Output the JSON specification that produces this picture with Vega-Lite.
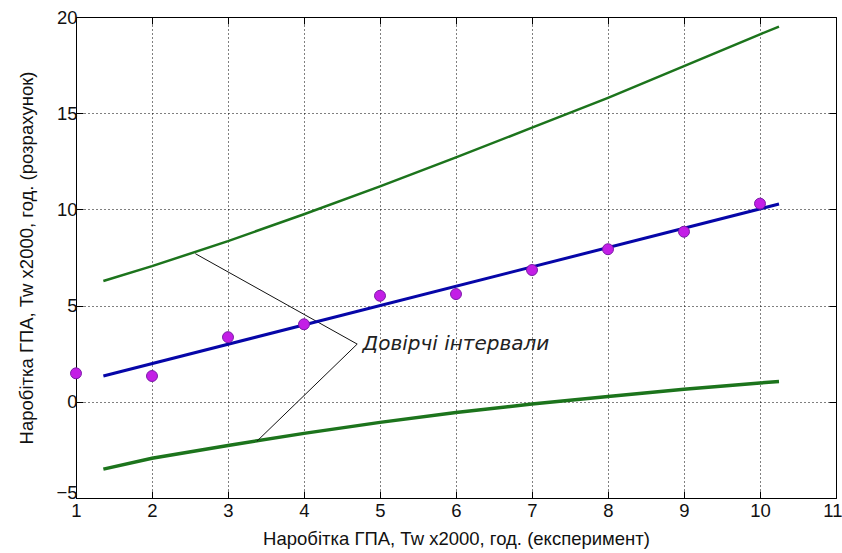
{
  "$schema": "https://vega.github.io/schema/vega-lite/v6.json",
  "width": 760,
  "height": 481,
  "autosize": {"type": "none"},
  "padding": {"left": 76, "top": 17, "right": 6, "bottom": 55},
  "background": "white",
  "config": {
    "view": {"stroke": "black", "strokeWidth": 1},
    "axis": {
      "labelFont": "Liberation Sans",
      "labelFontSize": 18.5,
      "labelColor": "#111",
      "titleFont": "Liberation Sans",
      "titleFontSize": 18.5,
      "titleFontWeight": "normal",
      "titleColor": "#111",
      "domain": false,
      "tickColor": "black",
      "tickSize": -7,
      "gridColor": "black",
      "gridDash": [1, 3],
      "gridOpacity": 1,
      "gridWidth": 1
    }
  },
  "datasets": {
    "pts": [
      {"x": 1, "y": 1.48},
      {"x": 2, "y": 1.34},
      {"x": 3, "y": 3.36},
      {"x": 4, "y": 4.03},
      {"x": 5, "y": 5.51},
      {"x": 6, "y": 5.6},
      {"x": 7, "y": 6.85},
      {"x": 8, "y": 7.93},
      {"x": 9, "y": 8.84},
      {"x": 10, "y": 10.3}
    ],
    "lines": [
      {"series": "fit", "x": 1.36, "y": 1.34},
      {"series": "fit", "x": 10.25, "y": 10.28},
      {"series": "upper", "x": 1.36, "y": 6.28},
      {"series": "upper", "x": 2, "y": 7.05},
      {"series": "upper", "x": 3, "y": 8.35},
      {"series": "upper", "x": 4, "y": 9.75},
      {"series": "upper", "x": 5, "y": 11.2},
      {"series": "upper", "x": 6, "y": 12.7},
      {"series": "upper", "x": 7, "y": 14.25},
      {"series": "upper", "x": 8, "y": 15.8},
      {"series": "upper", "x": 9, "y": 17.45},
      {"series": "upper", "x": 10, "y": 19.1},
      {"series": "upper", "x": 10.25, "y": 19.5},
      {"series": "lower", "x": 1.36, "y": -3.5},
      {"series": "lower", "x": 2, "y": -2.93},
      {"series": "lower", "x": 3, "y": -2.27},
      {"series": "lower", "x": 4, "y": -1.64},
      {"series": "lower", "x": 5, "y": -1.07},
      {"series": "lower", "x": 6, "y": -0.56},
      {"series": "lower", "x": 7, "y": -0.12},
      {"series": "lower", "x": 8, "y": 0.28},
      {"series": "lower", "x": 9, "y": 0.65},
      {"series": "lower", "x": 10, "y": 0.98},
      {"series": "lower", "x": 10.25, "y": 1.05}
    ],
    "pointers": [
      {"x": 4.7, "y": 3.0, "x2": 2.57, "y2": 7.7},
      {"x": 4.7, "y": 3.0, "x2": 3.38, "y2": -2.05}
    ],
    "label": [
      {"x": 4.77, "y": 3.0, "text": "Довірчі інтервали"}
    ]
  },
  "layer": [
    {
      "data": {"name": "pts"},
      "mark": {"type": "point", "opacity": 0, "size": 1},
      "encoding": {
        "x": {"field": "x", "type": "quantitative",
              "scale": {"domain": [1, 11], "nice": false, "zero": false},
              "axis": {"values": [1,2,3,4,5,6,7,8,9,10,11], "title": "Наробітка ГПА, Tw x2000, год. (експеримент)", "grid": true, "labelPadding": 10, "titlePadding": 10, "labelFlush": false,
                       "labelAlign": {"condition": {"test": "datum.value == 11", "value": "right"}, "value": "center"},
                       "labelOffset": {"condition": {"test": "datum.value == 11", "value": 6}, "value": 0}}},
        "y": {"field": "y", "type": "quantitative",
              "scale": {"domain": [-5, 20], "nice": false, "zero": false},
              "axis": {"values": [-5,0,5,10,15,20], "title": "Наробітка ГПА, Tw x2000, год. (розрахунок)", "grid": true, "labelPadding": 6, "titlePadding": 19,
                       "labelOffset": {"condition": {"test": "datum.value == -5", "value": -6}, "value": 0}}}
      }
    },
    {
      "data": {"name": "lines"},
      "transform": [{"filter": "datum.series === 'upper'"}],
      "mark": {"type": "line", "color": "#1c741c", "strokeWidth": 2.5},
      "encoding": {
        "x": {"field": "x", "type": "quantitative", "axis": {"orient": "top", "values": [1,2,3,4,5,6,7,8,9,10,11], "labels": false, "title": null, "grid": false}},
        "y": {"field": "y", "type": "quantitative", "axis": {"orient": "right", "values": [-5,0,5,10,15,20], "labels": false, "title": null, "grid": false}}
      }
    },
    {
      "data": {"name": "lines"},
      "transform": [{"filter": "datum.series === 'lower'"}],
      "mark": {"type": "line", "color": "#1c741c", "strokeWidth": 3.5},
      "encoding": {
        "x": {"field": "x", "type": "quantitative", "axis": null},
        "y": {"field": "y", "type": "quantitative", "axis": null}
      }
    },
    {
      "data": {"name": "pointers"},
      "mark": {"type": "rule", "color": "#111", "strokeWidth": 1},
      "encoding": {
        "x": {"field": "x", "type": "quantitative", "axis": null},
        "y": {"field": "y", "type": "quantitative", "axis": null},
        "x2": {"field": "x2"},
        "y2": {"field": "y2"}
      }
    },
    {
      "data": {"name": "lines"},
      "transform": [{"filter": "datum.series === 'fit'"}],
      "mark": {"type": "line", "color": "#0606a8", "strokeWidth": 3},
      "encoding": {
        "x": {"field": "x", "type": "quantitative", "axis": null},
        "y": {"field": "y", "type": "quantitative", "axis": null}
      }
    },
    {
      "data": {"name": "pts"},
      "mark": {"type": "circle", "size": 120, "color": "#c31ee6", "opacity": 1, "stroke": "#7a1aa8", "strokeWidth": 1},
      "encoding": {
        "x": {"field": "x", "type": "quantitative", "axis": null},
        "y": {"field": "y", "type": "quantitative", "axis": null}
      }
    },
    {
      "data": {"name": "label"},
      "mark": {"type": "text", "align": "left", "baseline": "middle", "font": "DejaVu Sans", "fontStyle": "italic", "fontSize": 20, "color": "#222"},
      "encoding": {
        "x": {"field": "x", "type": "quantitative", "axis": null},
        "y": {"field": "y", "type": "quantitative", "axis": null},
        "text": {"field": "text"}
      }
    }
  ],
  "resolve": {"axis": {"x": "independent", "y": "independent"}}
}
